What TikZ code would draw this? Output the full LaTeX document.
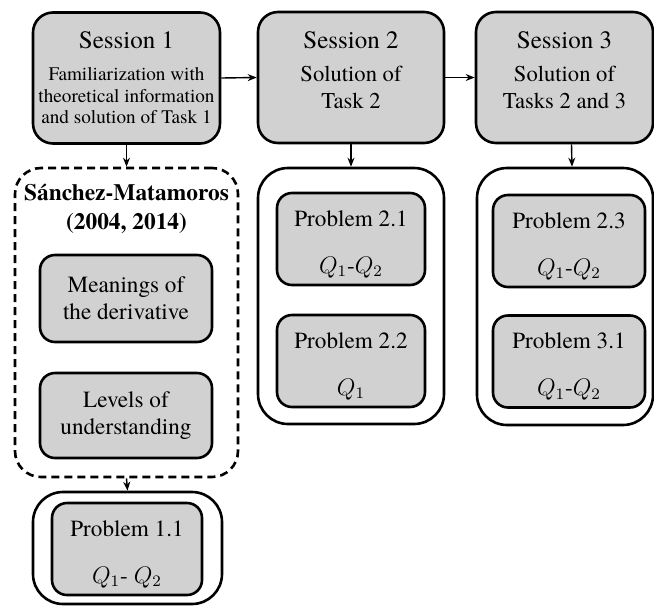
\documentclass[tikz,border=0pt]{standalone}
\usepackage{fontspec}
\IfFontExistsTF{texgyretermes-regular.otf}
  {\setmainfont{texgyretermes}[Extension=.otf,UprightFont=*-regular,BoldFont=*-bold,
     ItalicFont=*-italic,BoldItalicFont=*-bolditalic]}
  {}
\usetikzlibrary{arrows.meta}

\begin{document}
\begin{tikzpicture}[x=0.5pt,y=-0.5pt,
    box/.style={draw,line width=1.3pt,fill=black!18,rounded corners=7.5pt,align=center,inner sep=2pt,
      font=\fontsize{11.6}{13.5}\selectfont},
    sessbox/.style={box,rounded corners=10pt,minimum width=#1,minimum height=65.5pt},
    probbox/.style={box,minimum width=74pt,minimum height=46pt},
    group/.style={draw,line width=1.3pt,rounded corners=15pt,minimum width=#1},
    link/.style={-{Stealth[length=4.5pt,width=3.5pt]},line width=0.7pt}]
    \useasboundingbox (0,0) rectangle (654,606);

    % sessions
    \node[sessbox=93.5pt,font=\fontsize{9.6}{10.8}\selectfont] (s1) at (126.5,78) {{\fontsize{12.5}{14}\selectfont Session 1}\\[5pt]
      Familiarization with\\ theoretical information\\ and solution of Task 1};
    \node[sessbox=93pt,font=\fontsize{11.3}{13.5}\selectfont] (s2) at (351,77.5) {{\fontsize{12.5}{14}\selectfont Session 2}\\[3pt]
      Solution of\\ Task 2\\[-6pt]\mbox{}};
    \node[sessbox=88.5pt,font=\fontsize{11.3}{13.5}\selectfont] (s3) at (564.5,77.5) {{\fontsize{12.5}{14}\selectfont Session 3}\\[3pt]
      Solution of\\ Tasks 2 and 3\\[-6pt]\mbox{}};
    \draw[link] (s1.east) -- (s2.west);
    \draw[link] (s2.east) -- (s3.west);

    % Sanchez-Matamoros frame
    \node[group=111.5pt,minimum height=154.5pt,dashed,dash pattern=on 4pt off 2.5pt,rounded corners=13pt] (sm) at (126.5,322.5) {};
    \node[font=\fontsize{11.7}{14.5}\selectfont\bfseries,align=center] (smtitle) at (126.5,209) {Sánchez-Matamoros\\(2004, 2014)};
    \node[box,minimum width=86pt,minimum height=43.5pt] (mean) at (126,298.5) {Meanings of\\the derivative};
    \node[box,minimum width=86pt,minimum height=42.5pt] (lev) at (126,415.5) {Levels of\\understanding};
    \draw[link] (s1.south) -- (sm.north);

    % problem groups
    \node[group=94.5pt,minimum height=56pt] (g1) at (127.5,548) {};
    \node[probbox,minimum width=75pt] (p11) at (127,549) {\rule{0pt}{13pt}Problem 1.1\\[10pt]$Q_1$- $Q_2$};
    \draw[link] (sm.south) -- (g1.north);

    \node[group=93pt,minimum height=128pt] (g2) at (351,296) {};
    \node[probbox] (p21) at (351,239) {\rule{0pt}{13pt}Problem 2.1\\[10pt]$Q_1$-$Q_2$};
    \node[probbox] (p22) at (351,361) {\rule{0pt}{13pt}Problem 2.2\\[10pt]$Q_1$};
    \draw[link] (s2.south) -- (g2.north);

    \node[group=88pt,minimum height=128.5pt] (g3) at (565,296.5) {};
    \node[probbox,minimum width=76pt] (p23) at (569,241) {\rule{0pt}{13pt}Problem 2.3\\[10pt]$Q_1$-$Q_2$};
    \node[probbox,minimum width=76pt] (p31) at (569,361.5) {\rule{0pt}{13pt}Problem 3.1\\[10pt]$Q_1$-$Q_2$};
    \draw[link] ([xshift=3.5pt]s3.south) -- ([xshift=3.5pt]g3.north);
  \end{tikzpicture}
\end{document}
